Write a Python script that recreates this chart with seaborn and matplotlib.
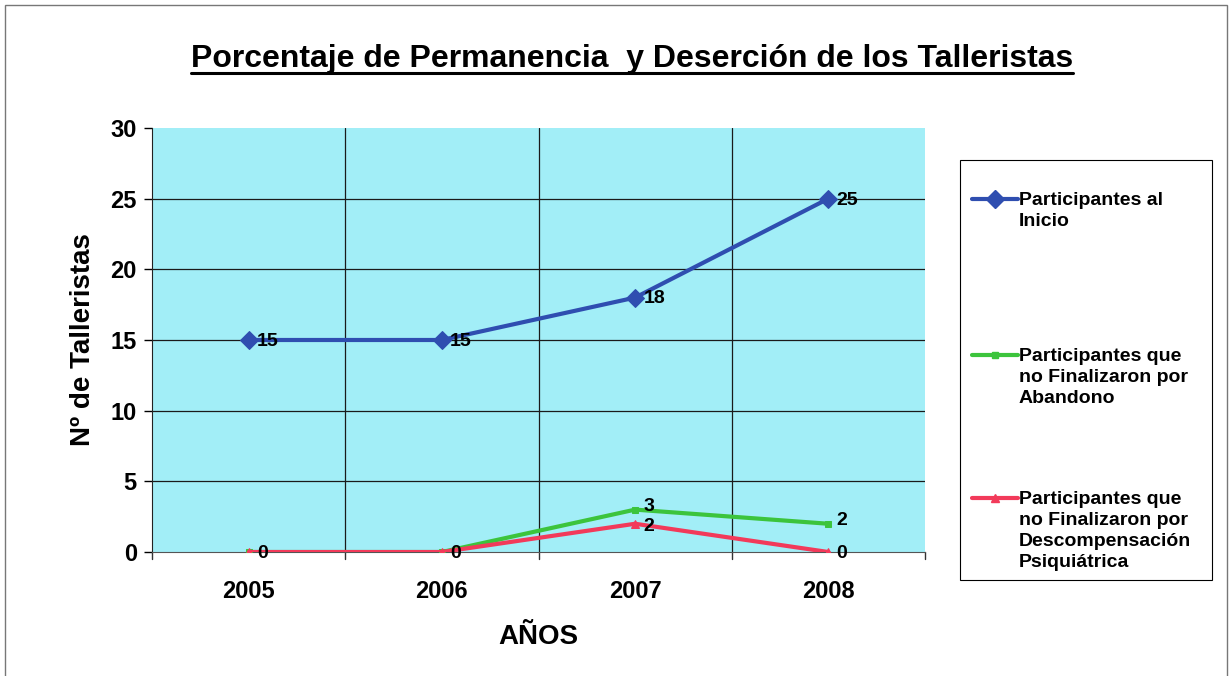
import numpy as np
import pandas as pd
import seaborn as sns
import matplotlib.pyplot as plt
from matplotlib.lines import Line2D
from matplotlib.patches import Rectangle

# data
years = ['2005', '2006', '2007', '2008']
inicio = [15, 15, 18, 25]
abandono = [0, 0, 3, 2]
descompensacion = [0, 0, 2, 0]
series_labels = [
    'Participantes al\nInicio',
    'Participantes que\nno Finalizaron por\nAbandono',
    'Participantes que\nno Finalizaron por\nDescompensación\nPsiquiátrica',
]
series_colors = ['#2f4eb0', '#3cc43c', '#f23a5a']
series_markers = ['D', 's', '^']
series_sizes = [9, 5, 6]
label_dy = [-1, 2.5, -2]

sns.set_style('white')
plt.rcParams['font.family'] = ['Liberation Sans', 'DejaVu Sans']
plt.rcParams['text.color'] = 'black'
plt.rcParams['axes.labelcolor'] = 'black'
plt.rcParams['xtick.color'] = 'black'
plt.rcParams['ytick.color'] = 'black'

fig = plt.figure(figsize=(12.32, 6.76), dpi=100)
ax = fig.add_axes([0.1234, 0.1834, 0.6274, 0.6273])
ax.set_facecolor('#a2eef7')

x = np.arange(len(years))
labelled = set()
for vals, col, mk, ms, dy in zip([inicio, abandono, descompensacion], series_colors,
                                 series_markers, series_sizes, label_dy):
    df = pd.DataFrame({'x': x, 'y': vals})
    sns.lineplot(data=df, x='x', y='y', ax=ax, color=col, linewidth=3,
                 marker=mk, markersize=ms, markeredgecolor=col, legend=False,
                 zorder=3)
    for xi, v in zip(x, vals):
        # coincident labels (the zeros) print on top of each other in the original
        if (xi, v) in labelled:
            continue
        labelled.add((xi, v))
        ax.annotate(str(v), (xi, v), xytext=(6, dy if v else -1), textcoords='offset points',
                    ha='left', va='center', fontsize=14, fontweight='bold',
                    color='black', zorder=4)

ax.set_xlim(-0.5, len(years) - 0.5)
ax.set_ylim(0, 30)
ax.set_yticks(range(0, 31, 5))
ax.set_yticklabels([str(v) for v in range(0, 31, 5)], fontsize=17, fontweight='bold')
ax.set_xticks(x)
ax.set_xticklabels(years, fontsize=17, fontweight='bold')
ax.tick_params(axis='x', length=0, pad=20)
ax.tick_params(axis='y', length=6, width=1, color='black', direction='out', left=True, pad=5)

# gridlines
for yv in range(5, 30, 5):
    ax.axhline(yv, color='#1a1a1a', linewidth=0.9, zorder=1)
for xb in np.arange(0.5, len(years) - 1, 1):
    ax.axvline(xb, color='#1a1a1a', linewidth=0.9, zorder=1)
# category boundary ticks below the axis
for xb in np.arange(-0.5, len(years), 1):
    ax.plot([xb, xb], [0, -0.5], color='#333333', linewidth=1, clip_on=False)

for s in ['top', 'right']:
    ax.spines[s].set_visible(False)
ax.spines['left'].set_color('#222222')
ax.spines['bottom'].set_color('#555555')

ax.set_xlabel('AÑOS', fontsize=20, fontweight='bold', labelpad=15)
ax.set_ylabel('Nº de Talleristas', fontsize=20, fontweight='bold', labelpad=10)

# legend box drawn like the Excel one: handle level with the first text line
W, H = 1232.0, 676.0
fig.add_artist(Rectangle((960 / W, 1 - 580 / H), 252 / W, 420 / H, transform=fig.transFigure,
                         facecolor='white', edgecolor='black', linewidth=0.8))
for lab, col, mk, ms, ypx in zip(series_labels, series_colors, series_markers, series_sizes,
                                 [199, 355, 498]):
    yf = 1 - ypx / H
    fig.add_artist(Line2D([972 / W, 1018 / W], [yf, yf], color=col, linewidth=3))
    fig.add_artist(Line2D([995 / W], [yf], color=col, marker=mk, markersize=ms,
                          markeredgecolor=col, linestyle='none'))
    fig.text(1019 / W, yf + 7 / H, lab, ha='left', va='top', fontsize=14,
             fontweight='bold', linespacing=1.3)

title = fig.text(0.513, 0.912, 'Porcentaje de Permanencia  y Deserción de los Talleristas',
                 ha='center', va='center', fontsize=23, fontweight='bold')

# underline the title
fig.canvas.draw()
bb = title.get_window_extent().transformed(fig.transFigure.inverted())
fig.add_artist(Line2D([bb.x0, bb.x1], [bb.y0 + 0.002, bb.y0 + 0.002], color='black', linewidth=2.2))

# outer chart border
fig.add_artist(Rectangle((0.004, -0.05), 0.992, 1.043, transform=fig.transFigure,
                         fill=False, edgecolor='#777777', linewidth=1))

fig.savefig('out.png', dpi=100)
